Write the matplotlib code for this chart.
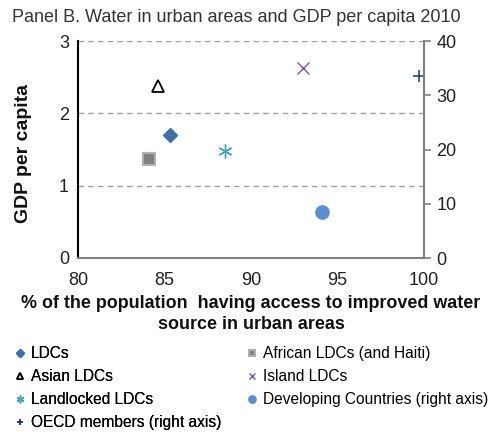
import matplotlib
matplotlib.use('Agg')
import matplotlib.pyplot as plt
from matplotlib.lines import Line2D

plt.rcParams['font.family'] = ['Liberation Sans', 'DejaVu Sans']

# left axis groups (GDP per capita)
left_names = ['LDCs', 'African LDCs (and Haiti)', 'Asian LDCs', 'Island LDCs', 'Landlocked LDCs']
left_x = [85.3, 84.1, 84.6, 93.0, 88.5]
left_y = [1.70, 1.37, 2.38, 2.62, 1.48]

# right axis groups
right_names = ['Developing Countries (right axis)', 'OECD members (right axis)']
right_x = [94.1, 99.7]
right_y = [8.4, 33.6]

# legend columns as laid out in the picture
legend_left = ['LDCs', 'Asian LDCs', 'Landlocked LDCs', 'OECD members (right axis)']
legend_right = ['African LDCs (and Haiti)', 'Island LDCs', 'Developing Countries (right axis)']

def main():
    fig = plt.figure(figsize=(4.96, 4.32), dpi=100)
    ax = fig.add_axes([78/496, 1-258/432, 346/496, 217/432])
    ax2 = ax.twinx()

    styles = {
        'LDCs': dict(marker='D', color='#3f6fa6', ms=7, mfc='#3f6fa6', mec='#3f6fa6'),
        'African LDCs (and Haiti)': dict(marker='s', color='#808080', ms=9, mfc='#808080', mec='#b0b0b0', mew=1.5),
        'Asian LDCs': dict(marker='^', color='black', ms=9, mfc='white', mec='black', mew=1.3),
        'Island LDCs': dict(marker='x', color='#7b5a9b', ms=8, mew=1.0),
        'Landlocked LDCs': dict(marker=(6, 2, 0), color='#4aa3b5', ms=10, mew=1.0),
        'Developing Countries (right axis)': dict(marker='o', color='#5b8fcf', ms=9.5, mec='#5b8fcf'),
        'OECD members (right axis)': dict(marker='+', color='#1f3b6a', ms=9, mew=1.1),
    }

    for n, x, y in zip(left_names, left_x, left_y):
        ax.plot(x, y, ls='none', **styles[n])
    for n, x, y in zip(right_names, right_x, right_y):
        ax2.plot(x, y, ls='none', **styles[n])

    ax.set_xlim(80, 100)
    ax.set_ylim(0, 3)
    ax2.set_ylim(0, 40)
    ax.set_xticks([80, 85, 90, 95, 100])
    ax.set_yticks([0, 1, 2, 3])
    ax2.set_yticks([0, 10, 20, 30, 40])
    for v in [1, 2, 3]:
        ax.axhline(v, color='#a0a0a0', ls=(0, (4, 3)), lw=1, zorder=0)

    for a in (ax, ax2):
        a.spines['top'].set_visible(False)
        a.tick_params(labelsize=13, colors='#222222')
    ax.spines['left'].set_color('black')
    ax.spines['left'].set_linewidth(1.5)
    ax2.spines['left'].set_visible(False)
    ax2.spines['right'].set_color('#808080')
    ax2.spines['right'].set_linewidth(1.5)
    ax.spines['right'].set_visible(False)
    ax.spines['bottom'].set_color('#808080')
    ax.spines['bottom'].set_linewidth(1.5)
    ax2.spines['bottom'].set_visible(False)
    ax.tick_params(axis='x', length=0, pad=10)
    ax.tick_params(axis='y', length=0, pad=6.5)
    ax2.tick_params(axis='y', length=5, color='#808080', width=1.2, pad=4)

    # axis titles
    fig.text(24/496, 1-153/432, 'GDP per capita', rotation=90, fontsize=14,
             fontweight='bold', ha='center', va='center', color='#111111')
    fig.text(251/496, 1-314/432,
             '% of the population  having access to improved water\nsource in urban areas',
             fontsize=12.9, fontweight='bold', ha='center', va='center', ma='center',
             linespacing=1.25, color='#111111')

    fig.text(12/496, 1-17/432, 'Panel B. Water in urban areas and GDP per capita 2010',
             fontsize=13, color='#333333', va='center', ha='left')

    # legend: two single-column legends placed side by side
    def handles_for(names):
        out = []
        for n in names:
            s = dict(styles[n])
            s['ms'] = s['ms'] * 0.55
            out.append(Line2D([], [], ls='none', **s))
        return out

    common = dict(loc='upper left', frameon=False, fontsize=11.2, handlelength=0.6,
                  handletextpad=0.4, labelspacing=0.52, borderaxespad=0, borderpad=0)
    leg1 = fig.legend(handles_for(legend_left), legend_left,
                      bbox_to_anchor=(15/496, 1-346/432), **common)
    fig.add_artist(leg1)
    fig.legend(handles_for(legend_right), legend_right,
               bbox_to_anchor=(247/496, 1-346/432), **common)

    fig.savefig('out.png', dpi=100)

if __name__ == '__main__':
    main()
